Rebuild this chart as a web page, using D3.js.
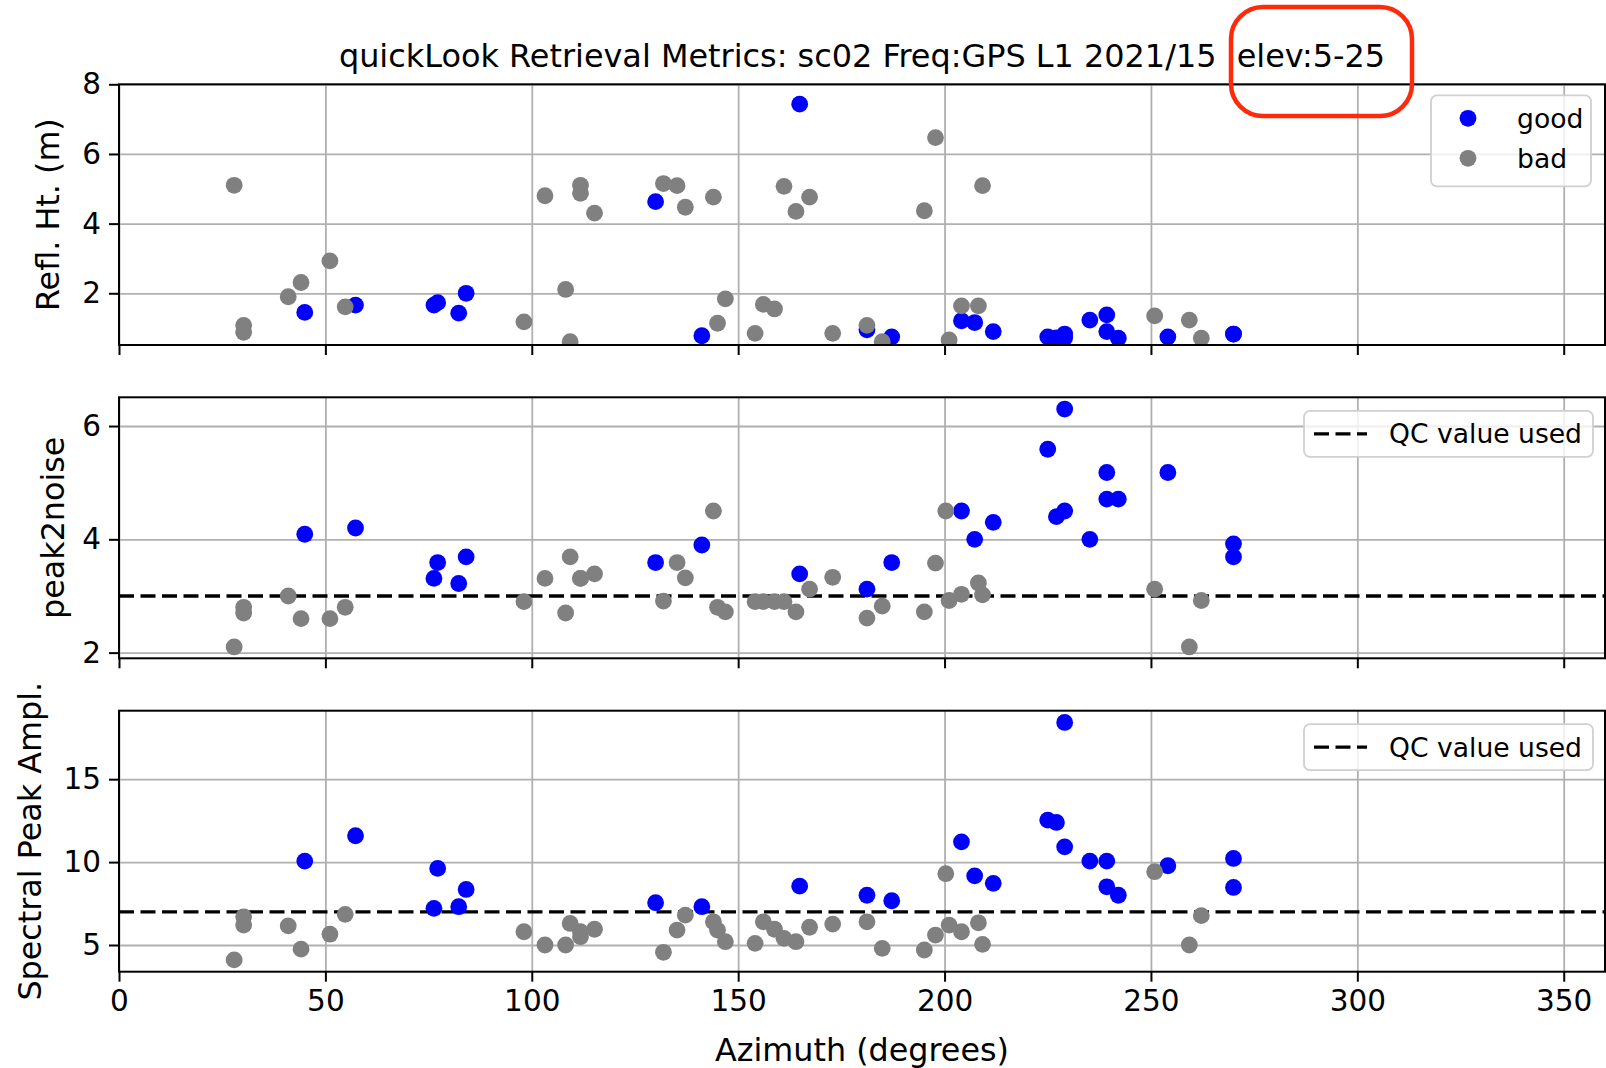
<!DOCTYPE html>
<html>
<head>
<meta charset="utf-8">
<script src="https://cdn.jsdelivr.net/npm/d3@7"></script>
<style>
  body { margin: 0; background: #fff; }
  svg { display: block; }
  text { font-family: "DejaVu Sans", sans-serif; fill: #000; }
</style>
</head>
<body>
<svg id="chart" width="1606" height="1068"></svg>
<script>
// ---------------- data ----------------
const azimuth = [
  27.9, 30.2, 30.2, 41.0, 44.1, 51.1, 54.8, 98.1, 103.2, 108.2,
  109.3, 111.8, 111.8, 115.2, 131.9, 135.2, 137.2, 144.0, 145.0, 146.9,
  154.1, 156.1, 158.8, 161.1, 164.0, 167.3, 172.9, 181.2, 184.9, 195.1,
  197.8, 200.3, 201.1, 204.1, 208.2, 209.2, 250.9, 259.3, 262.2,
  45.0, 57.3, 76.3, 77.2, 82.3, 84.1, 130.0, 141.2, 164.9, 181.2,
  187.2, 204.1, 207.3, 211.8, 225.0, 227.1, 229.1, 229.1, 235.2, 239.3,
  239.3, 242.1, 254.1, 270.0, 270.0
];
const quality = [
  "bad","bad","bad","bad","bad","bad","bad","bad","bad","bad",
  "bad","bad","bad","bad","bad","bad","bad","bad","bad","bad",
  "bad","bad","bad","bad","bad","bad","bad","bad","bad","bad",
  "bad","bad","bad","bad","bad","bad","bad","bad","bad",
  "good","good","good","good","good","good","good","good","good","good",
  "good","good","good","good","good","good","good","good","good","good",
  "good","good","good","good","good"
];
const reflHt = [
  5.10, 1.08, 0.88, 1.90, 2.31, 2.93, 1.61, 1.18, 4.80, 2.11,
  0.61, 5.10, 4.87, 4.30, 5.15, 5.09, 4.47, 4.76, 1.14, 1.84,
  0.85, 1.68, 1.55, 5.07, 4.35, 4.76, 0.85, 1.08, 0.61, 4.37,
  6.47, null, 0.66, 1.64, 1.64, 5.09, 1.35, 1.23, 0.71,
  1.45, 1.66, 1.66, 1.73, 1.43, 2.00, 4.63, 0.78, 7.43, 0.95,
  0.75, 1.21, 1.16, 0.90, 0.75, 0.72, 0.83, 0.72, 1.23, 1.38,
  0.90, 0.71, 0.75, 0.83, 0.83
];
const peak2noise = [
  2.10, 2.80, 2.70, 3.00, 2.60, 2.60, 2.80, 2.90, 3.31, 2.70,
  3.69, 3.31, 3.31, 3.39, 2.91, 3.59, 3.32, 4.50, 2.80, 2.72,
  2.90, 2.90, 2.90, 2.90, 2.72, 3.12, 3.33, 2.61, 2.82, 2.72,
  3.58, 4.50, 2.92, 3.03, 3.23, 3.02, 3.12, 2.10, 2.92,
  4.09, 4.20, 3.31, 3.59, 3.22, 3.69, 3.59, 3.90, 3.39, 3.12,
  3.59, 4.50, 4.00, 4.30, 5.59, 4.40, 6.30, 4.50, 4.00, 5.18,
  4.71, 4.71, 5.18, 3.92, 3.69
];
const spectralAmp = [
  4.10, 6.70, 6.20, 6.15, 4.75, 5.65, 6.85, 5.80, 5.00, 5.00,
  6.30, 5.80, 5.50, 5.95, 4.56, 5.90, 6.80, 6.40, 5.90, 5.20,
  5.10, 6.40, 5.95, 5.40, 5.20, 6.07, 6.26, 6.40, 4.80, 4.70,
  5.60, 9.30, 6.20, 5.80, 6.34, 5.04, 9.42, 5.00, 6.77,
  10.06, 11.59, 7.21, 9.62, 7.31, 8.35, 7.55, 7.31, 8.55, 8.00,
  7.67, 11.22, 9.17, 8.72, 12.53, 12.39, 18.42, 10.92, 10.06, 10.06,
  8.51, 8.00, 9.78, 10.22, 8.47
];
const qcPeak2noise = 3;
const qcSpectralAmp = 7;
const xTicks = [0, 50, 100, 150, 200, 250, 300, 350];
const yTicksReflHt = [2, 4, 6, 8];
const yTicksPeak2noise = [2, 4, 6];
const yTicksAmp = [5, 10, 15];
const legendLabels = ["good", "bad"];
const qcLabel = "QC value used";
const titleText = "quickLook Retrieval Metrics: sc02 Freq:GPS L1 2021/15  elev:5-25";
const xLabel = "Azimuth (degrees)";

// ---------------- layout ----------------
const W = 1606, H = 1068;
const left = 119, right = 1605;
const colors = { good: "#0000ff", bad: "#808080" };
const gridColor = "#b0b0b0";

const panels = [
  { values: reflHt, domain: [0.515, 8.0], ticks: yTicksReflHt, top: 84.3, bottom: 345,
    label: "Refl. Ht. (m)", labelX: 47, qc: null, legend: "quality" },
  { values: peak2noise, domain: [1.9, 6.507], ticks: yTicksPeak2noise, top: 397.3, bottom: 658.3,
    label: "peak2noise", labelX: 52, qc: qcPeak2noise, legend: "qc" },
  { values: spectralAmp, domain: [3.39, 19.13], ticks: yTicksAmp, top: 710.7, bottom: 971.7,
    label: "Spectral Peak Ampl.", labelX: 29, qc: qcSpectralAmp, legend: "qc" }
];

const svg = d3.select("#chart");
svg.append("rect").attr("width", W).attr("height", H).attr("fill", "#fff");

const x = d3.scaleLinear().domain([0, 360]).range([left, right]);
const TICK_FS = 29.5, LABEL_FS = 31.8, LEGEND_FS = 26.6, TITLE_FS = 31.9;

panels.forEach((p, i) => {
  const y = d3.scaleLinear().domain(p.domain).range([p.bottom, p.top]);
  const g = svg.append("g");
  const clipId = "clip" + i;
  svg.append("clipPath").attr("id", clipId).append("rect")
    .attr("x", left).attr("y", p.top).attr("width", right - left).attr("height", p.bottom - p.top);

  // grid
  g.append("g").attr("transform", `translate(0,${p.bottom})`)
    .call(d3.axisBottom(x).tickValues(xTicks).tickSize(-(p.bottom - p.top)).tickFormat(""))
    .call(a => { a.select(".domain").remove(); a.selectAll("line").attr("stroke", gridColor).attr("stroke-width", 1.8); });
  g.append("g").attr("transform", `translate(${left},0)`)
    .call(d3.axisLeft(y).tickValues(p.ticks).tickSize(-(right - left)).tickFormat(""))
    .call(a => { a.select(".domain").remove(); a.selectAll("line").attr("stroke", gridColor).attr("stroke-width", 1.8); });

  // QC line
  const plot = g.append("g").attr("clip-path", `url(#${clipId})`);
  if (p.qc !== null) {
    plot.append("line").attr("x1", left).attr("x2", right)
      .attr("y1", y(p.qc)).attr("y2", y(p.qc))
      .attr("stroke", "#000").attr("stroke-width", 3.3).attr("stroke-dasharray", "15,6.5");
  }

  // points: good first, then bad
  ["good", "bad"].forEach(q => {
    const idx = d3.range(azimuth.length).filter(k => quality[k] === q && p.values[k] !== null);
    plot.selectAll(null).data(idx).join("circle")
      .attr("cx", k => x(azimuth[k])).attr("cy", k => y(p.values[k]))
      .attr("r", 8.4).attr("fill", colors[q]);
  });

  // spines
  g.append("rect").attr("x", left).attr("y", p.top).attr("width", right - left).attr("height", p.bottom - p.top)
    .attr("fill", "none").attr("stroke", "#000").attr("stroke-width", 2);

  // x axis ticks
  const xa = g.append("g").attr("transform", `translate(0,${p.bottom})`)
    .call(d3.axisBottom(x).tickValues(xTicks).tickSize(10).tickPadding(8)
      .tickFormat(i === 2 ? d3.format("d") : ""));
  xa.select(".domain").remove();
  xa.selectAll("line").attr("stroke", "#000").attr("stroke-width", 2);
  xa.selectAll("text").attr("font-size", TICK_FS).attr("font-family", "DejaVu Sans");

  // y axis ticks
  const ya = g.append("g").attr("transform", `translate(${left},0)`)
    .call(d3.axisLeft(y).tickValues(p.ticks).tickSize(10).tickPadding(8).tickFormat(d3.format("d")));
  ya.select(".domain").remove();
  ya.selectAll("line").attr("stroke", "#000").attr("stroke-width", 2);
  ya.selectAll("text").attr("font-size", TICK_FS).attr("font-family", "DejaVu Sans");

  // y label
  const cy = (p.top + p.bottom) / 2;
  g.append("text").attr("transform", `translate(${p.labelX},${cy}) rotate(-90)`)
    .attr("text-anchor", "middle").attr("dominant-baseline", "central")
    .attr("font-size", LABEL_FS).text(p.label);

  // legends
  if (p.legend === "quality") {
    const lx = 1431, ly = p.top + 11, lw = 160, lh = 91;
    const lg = g.append("g");
    lg.append("rect").attr("x", lx).attr("y", ly).attr("width", lw).attr("height", lh)
      .attr("rx", 6).attr("fill", "#fff").attr("fill-opacity", 0.8)
      .attr("stroke", "#d0d0d0").attr("stroke-width", 1.8);
    legendLabels.forEach((lab, j) => {
      const yy = ly + 23 + j * 40;
      lg.append("circle").attr("cx", lx + 37).attr("cy", yy).attr("r", 8.4).attr("fill", colors[lab]);
      lg.append("text").attr("x", lx + 86).attr("y", yy).attr("dominant-baseline", "central")
        .attr("font-size", LEGEND_FS).text(lab);
    });
  } else {
    const lx = 1304, ly = p.top + 13.5, lw = 289, lh = 46;
    const lg = g.append("g");
    lg.append("rect").attr("x", lx).attr("y", ly).attr("width", lw).attr("height", lh)
      .attr("rx", 6).attr("fill", "#fff").attr("fill-opacity", 0.8)
      .attr("stroke", "#d0d0d0").attr("stroke-width", 1.8);
    lg.append("line").attr("x1", lx + 10).attr("x2", lx + 63).attr("y1", ly + lh / 2).attr("y2", ly + lh / 2)
      .attr("stroke", "#000").attr("stroke-width", 3.3).attr("stroke-dasharray", "15,6.5");
    lg.append("text").attr("x", lx + 85).attr("y", ly + lh / 2).attr("dominant-baseline", "central")
      .attr("font-size", LEGEND_FS).text(qcLabel);
  }
});

// x label
svg.append("text").attr("x", (left + right) / 2).attr("y", 1049)
  .attr("text-anchor", "middle").attr("dominant-baseline", "central")
  .attr("font-size", LABEL_FS).text(xLabel);

// title
svg.append("text").attr("x", (left + right) / 2).attr("y", 66.5)
  .attr("text-anchor", "middle").attr("font-size", TITLE_FS)
  .style("white-space", "pre").text(titleText);

// red highlight annotation around elevation range
svg.append("rect").attr("x", 1231).attr("y", 7).attr("width", 181).attr("height", 109)
  .attr("rx", 32).attr("ry", 32).attr("fill", "none")
  .attr("stroke", "#ff2a0a").attr("stroke-width", 4.5);
</script>
</body>
</html>
